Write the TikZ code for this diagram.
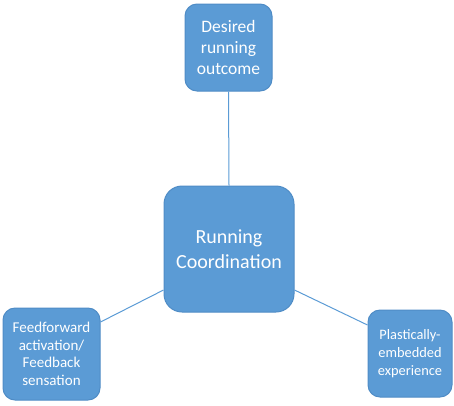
\documentclass[tikz,border=0pt]{standalone}
\usepackage{fontspec}
\setmainfont{Carlito}
\definecolor{boxfill}{HTML}{5B9BD5}
\definecolor{boxedge}{HTML}{4F8CC6}
\begin{document}
\begin{tikzpicture}[x=1pt,y=1pt,
  box/.style={draw=boxedge, line width=1pt, fill=boxfill, rounded corners=12pt, text=white, align=center, inner sep=0pt},
  conn/.style={draw=boxfill, line width=1pt}]
\useasboundingbox (0,0) rectangle (454,-405);
\node[box, minimum width=87pt, minimum height=87pt, font=\fontsize{17.5}{21}\selectfont] (top) at (228.5,-47.5) {Desired\\running\\outcome};
\node[box, minimum width=130pt, minimum height=126pt, rounded corners=18pt, font=\fontsize{20}{25}\selectfont] (center) at (229,-249) {Running\\Coordination};
\node[box, minimum width=97pt, minimum height=92pt, font=\fontsize{15}{17.5}\selectfont] (left) at (51.5,-354) {Feedforward\\activation/\\Feedback\\sensation};
\node[box, minimum width=84pt, minimum height=87pt, font=\fontsize{14.4}{18}\selectfont] (right) at (410,-353.5) {Plastically-\\embedded\\experience};
\draw[conn] (top.south) -- (center.north);
\draw[conn] (center.west |- 0,-290) -- (left.east |- 0,-322);
\draw[conn] (center.east |- 0,-290) -- (right.west |- 0,-325);
\end{tikzpicture}
\end{document}
